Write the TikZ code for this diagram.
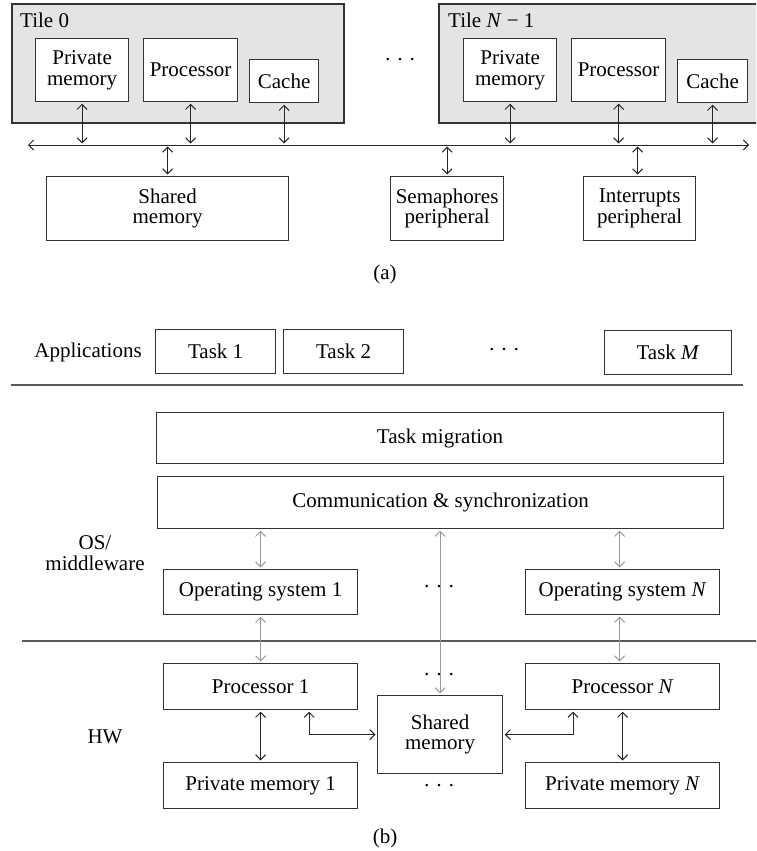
\documentclass[tikz,border=0pt]{standalone}
\usepackage{fontspec}
\setmainfont{Liberation Serif}
\usetikzlibrary{arrows.meta}
\definecolor{edgec}{HTML}{333333}
\definecolor{tilegray}{HTML}{E4E4E4}
\definecolor{arrg}{HTML}{9A9A9A}
\definecolor{sepc}{HTML}{5A5A5A}
\newcommand\fs{\fontsize{21}{20.5}\selectfont}
\newcommand\mybox[6]{\node[box,minimum width={(#4-#2)*1pt},minimum height={(#5-#3)*1pt}] (#1) at (#2,#3) {#6};}
\tikzset{
  box/.style={draw=edgec, line width=1.2pt, fill=white, inner sep=0pt, align=center, anchor=north west, font=\fs},
  tilebox/.style={draw=edgec, line width=1.2pt, fill=tilegray},
  lbl/.style={font=\fs, inner sep=0pt, align=center},
  dar/.style={{Straight Barb[length=5pt,width=10pt]}-{Straight Barb[length=5pt,width=10pt]}, line width=1pt, draw=black!85, shorten <=1.5pt, shorten >=1.5pt},
  gar/.style={dar, draw=arrg},
  sepl/.style={line width=1.5pt, draw=sepc},
}
\begin{document}
\begin{tikzpicture}[x=1pt,y=-1pt]
\useasboundingbox (0,0) rectangle (756,851);
\clip (0,0) rectangle (756,851);
% ---------- (a) ----------
\draw[tilebox] (12,4) rectangle (344,123);
\draw[tilebox] (439,4) rectangle (770,123);
\node[lbl, anchor=base west] (t0) at (20,28) {Tile 0};
\node[lbl, anchor=base west] (tN) at (448,28) {Tile \textit{N} − 1};
\mybox{pmA}{35}{38}{128}{101}{Private\\memory}
\mybox{procA}{143}{38}{237}{101}{Processor}
\mybox{cacheA}{249}{59}{318}{102}{Cache}
\mybox{pmB}{463}{38}{556}{101}{Private\\memory}
\mybox{procB}{571}{38}{665}{101}{Processor}
\mybox{cacheB}{677}{59}{747}{102}{Cache}
\node[lbl] (dotsA) at (400,62) {· · ·};
\coordinate (busL) at (28,145);
\coordinate (busR) at (749,145);
\draw[dar, shorten <=0pt, shorten >=0pt] (busL) -- (busR);
\mybox{shA}{46}{176}{288}{240}{Shared\\memory}
\mybox{semA}{390}{176}{503}{240}{Semaphores\\peripheral}
\mybox{intA}{583}{176}{695}{240}{Interrupts\\peripheral}
\foreach \n in {pmA,procA,cacheA,pmB,procB,cacheB}{
  \draw[dar] (\n.south) -- (\n.south |- busL);
}
\foreach \n in {shA,semA}{
  \draw[dar] (\n.north |- busL) -- (\n.north);
}
\draw[dar] ([xshift=-2pt]intA.north |- busL) -- ([xshift=-2pt]intA.north);
\node[lbl] (capa) at (385,274) {(a)};
% ---------- (b) ----------
\node[lbl] (apps) at (88,352) {Applications};
\mybox{t1}{155}{329}{275}{373}{Task 1}
\mybox{t2}{283}{329}{403}{373}{Task 2}
\mybox{tM}{604}{330}{731}{374}{Task \textit{M}}
\node[lbl] (dotsB) at (504,352) {· · ·};
\coordinate (s1a) at (11,385);
\coordinate (s1b) at (743,385);
\draw[sepl] (s1a) -- (s1b);
\mybox{mig}{156}{412}{723}{463}{Task migration}
\mybox{com}{157}{476}{723}{528}{Communication \& synchronization}
\node[lbl] (osmw) at (95,553) {OS/\\middleware};
\mybox{os1}{163}{569}{357}{614}{Operating system 1}
\mybox{osN}{525}{569}{719}{614}{Operating system \textit{N}}
\coordinate (s2a) at (22,641);
\coordinate (s2b) at (760,641);
\draw[sepl] (s2a) -- (s2b);
\mybox{p1}{163}{663}{357}{709}{Processor 1}
\mybox{pN}{525}{663}{719}{709}{Processor \textit{N}}
\mybox{m1}{163}{762}{357}{808}{Private memory 1}
\mybox{mN}{525}{762}{719}{808}{Private memory \textit{N}}
\mybox{sh}{377}{695}{502}{773}{Shared\\memory}
\node[lbl] (hw) at (105,737) {HW};
\node[lbl] (d1) at (439,589) {· · ·};
\node[lbl] (d2) at (439,677) {· · ·};
\node[lbl] (d3) at (439,788) {· · ·};
\draw[gar] (os1.north |- com.south) -- (os1.north);
\draw[gar] ([xshift=-3pt]osN.north |- com.south) -- ([xshift=-3pt]osN.north);
\draw[gar] (sh.north |- com.south) -- (sh.north);
\draw[gar] (os1.south) -- (p1.north);
\draw[gar] ([xshift=-3pt]osN.south) -- ([xshift=-3pt]pN.north);
\draw[dar] (p1.south) -- (m1.north);
\draw[dar] (pN.south) -- (mN.north);
\draw[dar] ([xshift=-49pt]p1.south east) |- (sh.west);
\draw[dar] ([xshift=48pt]pN.south west) |- (sh.east);
\node[lbl] (capb) at (385,838) {(b)};
\end{tikzpicture}
\end{document}
